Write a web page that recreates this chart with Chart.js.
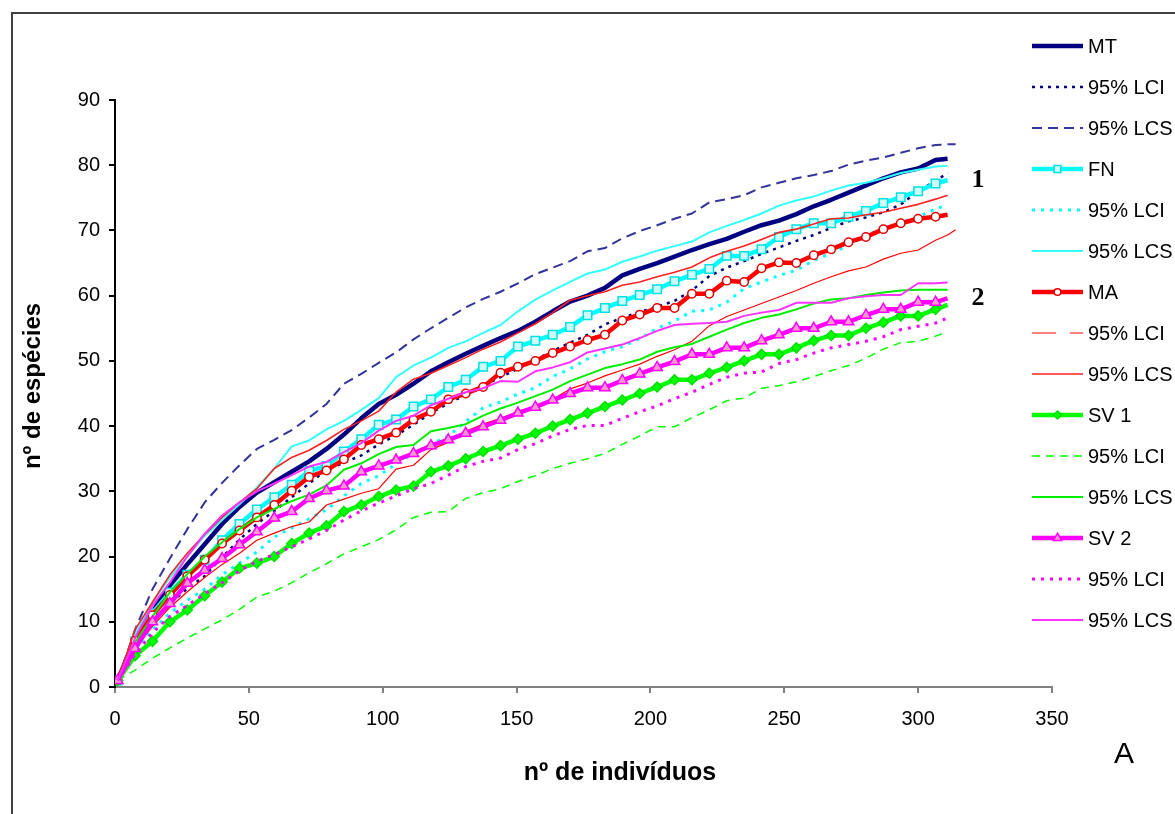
<!DOCTYPE html>
<html>
<head>
<meta charset="utf-8">
<script src="https://cdn.jsdelivr.net/npm/chart.js@4.4.0/dist/chart.umd.min.js"></script>
<style>
  html, body { margin: 0; padding: 0; background: #fff; }
  #wrap { width: 1175px; height: 814px; }
</style>
</head>
<body>
<div id="wrap"><canvas id="myChart" width="1175" height="814"></canvas></div>
<script>
// eixo x: nº de indivíduos (o último valor só é usado pelas curvas mais longas)
const individuos = [1, 7.5, 14, 20.5, 27, 33.5, 40, 46.5, 53, 59.5, 66, 72.5, 79, 85.5, 92, 98.5, 105, 111.5, 118, 124.5,
    131, 137.5, 144, 150.5, 157, 163.5, 170, 176.5, 183, 189.5, 196, 202.5, 209, 215.5, 222, 228.5, 235, 241.5, 248, 254.5,
    261, 267.5, 274, 280.5, 287, 293.5, 300, 306.5, 311, 314];

// MT
const mt = [1, 7.5, 11.5, 15.6, 18.8, 21.9, 25, 27.6, 29.8, 31.4, 33, 34.6, 36.5, 38.7, 41.2, 43.4, 44.8, 46.5, 48.4, 49.8,
    51.1, 52.3, 53.5, 54.6, 56, 57.6, 59.1, 60, 61.2, 63.1, 64.1, 65, 66, 67, 67.9, 68.7, 69.8, 70.8, 71.5, 72.5,
    73.7, 74.7, 75.8, 76.9, 78, 78.9, 79.5, 80.8, 81];
const mtLci = [1, 6.3, 9.8, 12.8, 15.1, 17, 19.9, 22.6, 25, 27, 29.1, 31.2, 33.3, 34.4, 35.5, 37.2, 38.6, 40.2, 42, 43.5,
    44.8, 46.2, 47.5, 48.8, 50.2, 51.5, 52.8, 54, 55.6, 56.6, 57.5, 58.3, 59.2, 60.8, 63, 64.3, 65.3, 66.4, 67.4, 68.4,
    69.3, 70.4, 71.4, 72, 72.8, 74, 76, 77.6, 78.8];
const mtLcs = [1, 8.8, 15, 19.7, 24.2, 28.3, 31.3, 34, 36.5, 37.9, 39.4, 41.3, 43.4, 46.5, 48, 49.7, 51.3, 53.3, 55, 56.6,
    58.2, 59.5, 60.6, 61.9, 63.3, 64.3, 65.3, 66.8, 67.3, 68.8, 69.9, 70.8, 71.8, 72.6, 74.3, 74.8, 75.4, 76.6, 77.3, 78,
    78.5, 79.1, 80.1, 80.7, 81.2, 81.9, 82.6, 83.1, 83.2, 83.2];

// FN
const fn = [1, 7, 11.3, 14.5, 17.2, 19.5, 22.5, 25, 27.2, 29.1, 31, 33.1, 33.9, 36.1, 38, 40.2, 41, 43, 44.1, 46,
    47.1, 49.1, 50, 52.2, 53.1, 54, 55.2, 57, 58.1, 59.2, 60.1, 61, 62.2, 63.2, 64.1, 66.1, 66.1, 67.1, 69, 70.2,
    71.1, 71.1, 72.1, 73, 74.2, 75.1, 76, 77.2, 77.7];
const fnLci = [1, 5.8, 8.8, 11.3, 13.3, 15, 17.2, 19, 20.7, 23, 24.4, 25.8, 27.2, 29.3, 31.2, 32.4, 34.2, 35.8, 37.2, 38.5,
    40.7, 42.8, 43.7, 44.9, 45.9, 47.6, 48.8, 50.3, 51.4, 52.2, 53.4, 55, 56.1, 57.6, 57.8, 59, 61.1, 62.1, 63.1, 63.9,
    65.4, 66.5, 67.7, 69.3, 70.3, 71.2, 72.1, 73.3, 73.9];
const fnLcs = [1, 8, 13, 16.8, 20, 23.2, 25.6, 28, 30.6, 33.5, 36.9, 37.8, 39.5, 40.8, 42.5, 44.3, 47.5, 49.3, 50.5, 52,
    53, 54.3, 55.5, 57.6, 59.4, 60.8, 62.1, 63.4, 64, 65.2, 66, 66.9, 67.6, 68.3, 69.7, 70.7, 71.6, 72.6, 73.8, 74.6,
    75.2, 76.1, 76.9, 77.3, 78, 78.8, 79.3, 79.8, 79.9];

// MA
const ma = [1, 7.1, 11, 14.1, 17, 19.5, 22, 24, 26, 27.9, 30.1, 32.2, 33.2, 34.9, 37.1, 38, 39, 41, 42.2, 44.1,
    45, 46, 48.2, 49.1, 50, 51.2, 52.2, 53.2, 54, 56.2, 57.1, 58.1, 58.1, 60.3, 60.3, 62.3, 62.1, 64.2, 65.1, 65,
    66.2, 67.1, 68.2, 69, 70.2, 71.1, 71.8, 72.1, 72.4];
const maLci = [1, 6, 9.3, 12.2, 14.6, 16.8, 18.8, 20.5, 22.5, 23.6, 24.6, 25.3, 27.9, 28.8, 29.7, 30.4, 33.4, 34, 36.4, 37.5,
    39.2, 40.3, 41.2, 42.2, 43, 44.1, 45.7, 46.6, 47.7, 48.6, 49.5, 50.7, 51.7, 53, 55.4, 56.8, 57.8, 58.8, 59.8, 60.8,
    61.9, 62.9, 63.8, 64.4, 65.6, 66.5, 67, 68.5, 69.3, 70.1];
const maLcs = [1, 8.8, 13, 17.2, 20.5, 23.4, 26, 28.3, 30.4, 33.5, 35.2, 36.3, 37.8, 39.5, 40.8, 42.3, 45.2, 47.2, 48.1, 49.3,
    50.5, 51.8, 52.9, 54.3, 55.7, 57.4, 59.3, 60, 60.6, 61.6, 62.1, 62.9, 63.6, 64.4, 65.8, 66.8, 67.6, 68.6, 69.7, 70.2,
    71, 71.8, 71.9, 72.4, 72.8, 73.4, 74, 74.8, 75.4];

// SV 1
const sv1 = [1, 4.8, 7, 10, 11.8, 14, 16.1, 18.2, 19, 20, 22, 23.6, 24.7, 26.9, 27.9, 29.2, 30.2, 30.8, 33, 33.9,
    35, 36.1, 37, 38, 38.9, 40, 41, 42, 43, 44, 45, 46, 47.1, 47.1, 48.1, 49, 50, 51, 51, 52,
    53.1, 53.9, 53.9, 55, 55.9, 56.9, 56.9, 57.9, 58.6];
const sv1Lci = [1, 2.6, 4.4, 6, 7.5, 8.9, 10.3, 11.9, 13.8, 14.7, 16, 17.5, 18.9, 20.4, 21.5, 22.6, 24.1, 26, 26.8, 26.9,
    28.9, 29.8, 30.4, 31.5, 32.4, 33.5, 34.3, 35, 35.8, 37.2, 38.5, 39.9, 39.9, 41.3, 42.5, 43.9, 44.3, 45.8, 46.2, 46.8,
    47.6, 48.5, 49.3, 50.4, 51.8, 52.8, 53, 53.8, 54.4];
const sv1Lcs = [1, 6.8, 10.8, 14.5, 17.3, 20, 22.2, 24.2, 26, 27.3, 28.5, 29.5, 30.9, 33.3, 34.3, 35.7, 36.8, 37.1, 39.2, 39.7,
    40.3, 41.6, 42.7, 43.6, 44.6, 45.6, 46.9, 47.9, 48.9, 49.5, 50.2, 51.4, 52.1, 52.6, 53.7, 54.8, 55.8, 56.6, 57.1, 57.9,
    58.8, 59.4, 59.6, 60.1, 60.5, 60.8, 60.9, 60.9, 60.9];

// SV 2
const sv2 = [1, 5.9, 10, 12.8, 15.9, 17.9, 19.7, 21.8, 23.8, 25.9, 26.9, 28.9, 30.1, 30.8, 33, 33.9, 34.8, 35.8, 37, 37.9,
    38.9, 39.9, 40.9, 42, 42.9, 44, 45, 45.9, 45.9, 47, 48, 49, 49.9, 51, 51, 52, 52, 53.1, 54, 55,
    55, 56, 56, 57, 57.9, 57.9, 59, 59, 59.6];
const sv2Lci = [1, 5, 8.3, 10.8, 12.5, 14.3, 16, 17.8, 19.3, 20.3, 21.5, 22.7, 24, 25.6, 27, 28.2, 29.3, 30.4, 31.2, 32.5,
    33.8, 34.6, 35.1, 36.4, 37.3, 38.5, 39.5, 40.1, 40.1, 41.2, 42.2, 43.1, 44.2, 45.2, 46.4, 47.5, 48.1, 48.3, 49.6, 50.2,
    51.2, 52, 52.5, 53, 53.7, 54.8, 55.3, 55.8, 56.6];
const sv2Lcs = [1, 7.5, 12.5, 16, 20, 23.5, 26.3, 28.3, 30, 31.2, 32.5, 33.8, 34.5, 36, 37.4, 39.3, 40.8, 41.6, 43.2, 44.2,
    45.2, 45.8, 46.9, 46.8, 48.4, 49, 49.8, 51.3, 51.9, 52.5, 53.5, 54.6, 55.5, 55.7, 55.8, 56, 56.9, 57.4, 57.8, 58.9,
    58.9, 58.9, 59.6, 59.9, 60.1, 60.1, 61.9, 61.9, 62];

// rótulos 1 e 2 à direita das curvas
const marcasTexto = ['1', '2'];
const marcasX = [322.4, 322.4];
const marcasY = [77.7, 59.6];

const fonte = '"Liberation Sans", Arial, sans-serif';

function serie(label, ys, cor, largura, extra) {
    return Object.assign({
        label: label,
        data: ys.map((y, i) => ({ x: individuos[i], y: y })),
        borderColor: cor,
        backgroundColor: cor,
        borderWidth: largura,
        pointRadius: 0,
        pointHoverRadius: 0,
        tension: 0,
        fill: false,
        borderJoinStyle: 'round'
    }, extra || {});
}

// marcadores em todos os pontos menos o último
function comMarca(estilo, fundo, borda, raio) {
    return {
        pointStyle: estilo,
        pointBackgroundColor: fundo,
        pointBorderColor: borda,
        pointBorderWidth: 1.5,
        pointRadius: ctx => (ctx.dataIndex === 48 ? 0 : raio)
    };
}

const datasets = [
    serie('MT', mt, '#000080', 4.5),
    serie('95% LCI', mtLci, '#000080', 2.5, { borderDash: [3, 5] }),
    serie('95% LCS', mtLcs, '#333399', 2, { borderDash: [10, 6] }),
    serie('FN', fn, '#00FFFF', 4.5, comMarca('rect', '#CCFFFF', '#00E0E0', 6)),
    serie('95% LCI', fnLci, '#00FFFF', 3, { borderDash: [3, 6] }),
    serie('95% LCS', fnLcs, '#33FFFF', 2),
    serie('MA', ma, '#FF0000', 4.5, comMarca('circle', '#FFFFFF', '#E00000', 4.2)),
    serie('95% LCI', maLci, '#FF0000', 1.2, { legendDash: [24, 14] }),
    serie('95% LCS', maLcs, '#FF2020', 1.6),
    serie('SV 1', sv1, '#00FF00', 4.5, comMarca('rectRot', '#00FF00', '#00DD00', 5)),
    serie('95% LCI', sv1Lci, '#00FF00', 1.5, { borderDash: [8, 6] }),
    serie('95% LCS', sv1Lcs, '#00EE00', 2),
    serie('SV 2', sv2, '#FF00FF', 4.5, comMarca('triangle', '#FF99CC', '#FF00FF', 6)),
    serie('95% LCI', sv2Lci, '#FF00FF', 3, { borderDash: [3, 6] }),
    serie('95% LCS', sv2Lcs, '#FF33FF', 2)
];
// como no Excel: a última série fica por cima
datasets.forEach((d, i) => { d.order = datasets.length - i; });

function desenhaMarca(ctx, estilo, x, y, r, fundo, borda) {
    ctx.beginPath();
    if (estilo === 'rect') {
        const s = r * Math.SQRT1_2;
        ctx.rect(x - s, y - s, 2 * s, 2 * s);
    } else if (estilo === 'circle') {
        ctx.arc(x, y, r, 0, Math.PI * 2);
    } else if (estilo === 'rectRot') {
        ctx.moveTo(x, y - r); ctx.lineTo(x + r, y); ctx.lineTo(x, y + r); ctx.lineTo(x - r, y);
        ctx.closePath();
    } else if (estilo === 'triangle') {
        ctx.moveTo(x, y - r); ctx.lineTo(x + 0.866 * r, y + 0.5 * r); ctx.lineTo(x - 0.866 * r, y + 0.5 * r);
        ctx.closePath();
    }
    ctx.fillStyle = fundo;
    ctx.fill();
    ctx.lineWidth = 1.5;
    ctx.strokeStyle = borda;
    ctx.stroke();
}

const moldura = {
    id: 'moldura',
    beforeDraw(chart) {
        const ctx = chart.ctx;
        ctx.save();
        ctx.fillStyle = '#fff';
        ctx.fillRect(0, 0, chart.width, chart.height);
        ctx.strokeStyle = '#404040';
        ctx.lineWidth = 2;
        ctx.strokeRect(12, 13, chart.width + 20, chart.height + 20);
        ctx.restore();
    }
};

const legenda = {
    id: 'legenda',
    afterDraw(chart) {
        const ctx = chart.ctx;
        ctx.save();
        chart.data.datasets.forEach((d, i) => {
            const y = 46 + i * 41;
            ctx.strokeStyle = d.borderColor;
            ctx.lineWidth = d.borderWidth;
            ctx.setLineDash(d.legendDash || d.borderDash || []);
            ctx.beginPath();
            ctx.moveTo(1032, y);
            ctx.lineTo(1083, y);
            ctx.stroke();
            ctx.setLineDash([]);
            if (d.pointStyle) {
                const r = d.pointRadius({ dataIndex: 0 });
                desenhaMarca(ctx, d.pointStyle, 1057.5, y, r * 0.8, d.pointBackgroundColor, d.pointBorderColor);
            }
            ctx.fillStyle = '#000';
            ctx.font = '20px ' + fonte;
            ctx.textAlign = 'left';
            ctx.textBaseline = 'middle';
            ctx.fillText(d.label, 1088, y + 1);
        });

        // rótulos 1 e 2
        const sx = chart.scales.x, sy = chart.scales.y;
        ctx.font = 'bold 26px "Liberation Serif", "Times New Roman", serif';
        ctx.textAlign = 'center';
        marcasTexto.forEach((t, i) => {
            ctx.fillText(t, sx.getPixelForValue(marcasX[i]), sy.getPixelForValue(marcasY[i]));
        });

        // títulos dos eixos
        ctx.font = 'bold 25px ' + fonte;
        ctx.fillText('nº de indivíduos', 620, 773);
        ctx.save();
        ctx.translate(33, 386);
        ctx.rotate(-Math.PI / 2);
        ctx.font = 'bold 24px ' + fonte;
        ctx.fillText('nº de espécies', 0, 0);
        ctx.restore();

        ctx.font = '30px ' + fonte;
        ctx.fillText('A', 1124, 755);
        ctx.restore();
    }
};

new Chart('myChart', {
    type: 'line',
    data: { datasets: datasets },
    plugins: [moldura, legenda],
    options: {
        responsive: false,
        animation: false,
        devicePixelRatio: 1,
        layout: { padding: { left: 10, top: 100, right: 123, bottom: 0 } },
        plugins: {
            legend: { display: false },
            tooltip: { enabled: false }
        },
        scales: {
            x: {
                type: 'linear',
                min: 0,
                max: 350,
                ticks: { stepSize: 50, color: '#000', font: { family: fonte, size: 20 }, padding: 14, maxRotation: 0 },
                grid: { drawOnChartArea: false, drawTicks: true, tickLength: 6, color: '#808080', lineWidth: 2 },
                border: { display: true, color: '#808080', width: 2 },
                afterFit: s => { s.height = 127; }
            },
            y: {
                type: 'linear',
                min: 0,
                max: 90,
                ticks: { stepSize: 10, color: '#000', font: { family: fonte, size: 20 }, padding: 9 },
                grid: { drawOnChartArea: false, drawTicks: true, tickLength: 6, color: '#000', lineWidth: 2 },
                border: { display: true, color: '#000', width: 2 },
                afterFit: s => { s.width = 105; }
            }
        }
    }
});
</script>
</body>
</html>
